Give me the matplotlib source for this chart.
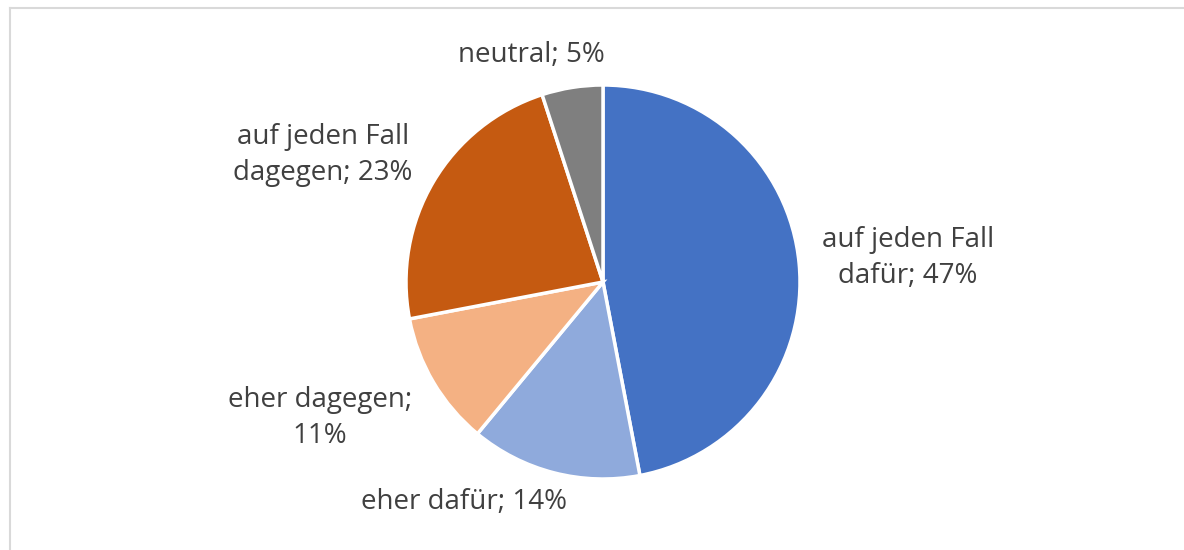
import matplotlib
matplotlib.use("Agg")
import matplotlib.pyplot as plt
from matplotlib.lines import Line2D

# Data
names = ["auf jeden Fall dafür", "eher dafür", "eher dagegen", "auf jeden Fall dagegen", "neutral"]
shares = [47, 14, 11, 23, 5]
colors = ["#4472C4", "#8FAADC", "#F4B183", "#C55A11", "#7F7F7F"]

# label text as shown in the chart (wrapped like the original)
label_texts = [
    "auf jeden Fall\ndafür; 47%",
    "eher dafür; 14%",
    "eher dagegen;\n11%",
    "auf jeden Fall\ndagegen; 23%",
    "neutral; 5%",
]

W, H = 1184, 550
cx, cy, r = 603, 282, 197

fig = plt.figure(figsize=(W / 100, H / 100), dpi=100)
ax = fig.add_axes([0, 0, 1, 1])

ax.pie(
    shares,
    colors=colors,
    startangle=90,
    counterclock=False,
    radius=1.0,
    wedgeprops=dict(edgecolor="white", linewidth=2.5),
    frame=True,
)
ax.set_xlim(-cx / r, (W - cx) / r)
ax.set_ylim(-(H - cy) / r, cy / r)
ax.set_aspect("auto")
ax.axis("off")

# label positions (pixel coords of text centres)
label_pos = [(908, 258), (464, 502), (320, 418), (323, 155), (531, 55)]
for txt, (px, py) in zip(label_texts, label_pos):
    ax.text((px - cx) / r, (cy - py) / r, txt, ha="center", va="center",
            fontsize=20, color="#404040", family="Open Sans",
            linespacing=1.38)

# chart border (partially cropped)
fig.add_artist(Line2D([10 / W, 10 / W], [0, 1 - 8 / H], color="#D9D9D9", lw=1.5))
fig.add_artist(Line2D([10 / W, 1], [1 - 8 / H, 1 - 8 / H], color="#D9D9D9", lw=1.5))

fig.savefig("out.png", dpi=100)
